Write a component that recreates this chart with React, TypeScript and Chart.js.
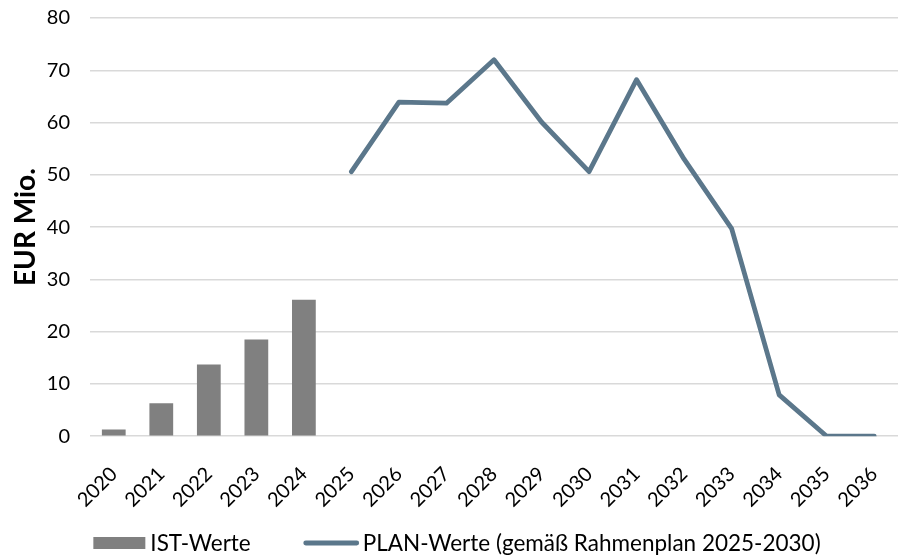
import React, { useEffect, useRef } from "react";
import { Chart, registerables } from "chart.js";

Chart.register(...registerables);

const years = ["2020","2021","2022","2023","2024","2025","2026","2027","2028","2029","2030","2031","2032","2033","2034","2035","2036"];
const istValues = [1.3, 6.3, 13.7, 18.5, 26.1, null, null, null, null, null, null, null, null, null, null, null, null];
const planValues = [null, null, null, null, null, 50.6, 63.9, 63.7, 72.0, 60.1, 50.6, 68.2, 53.0, 39.7, 7.9, 0, 0];
const yTicks = { min: 0, max: 80, step: 10 };
const seriesNames = ["IST-Werte", "PLAN-Werte (gemäß Rahmenplan 2025-2030)"];

const FONT = "Lato, 'Open Sans', sans-serif";
const BAR_COLOR = "#808080";
const LINE_COLOR = "#5b778b";

const legendPlugin = {
  id: "customLegend",
  afterDraw(chart: any) {
    const ctx = chart.ctx as CanvasRenderingContext2D;
    const ds = chart.data.datasets;
    ctx.save();
    ctx.font = `22.5px ${FONT}`;
    ctx.textBaseline = "middle";
    ctx.fillStyle = "#000";
    const w1 = ctx.measureText(ds[0].label).width;
    const w2 = ctx.measureText(ds[1].label).width;
    const total = 52 + 5 + w1 + 53 + 55 + 4 + w2;
    let x = chart.width / 2 + 4 - total / 2;
    const y = 535;
    ctx.fillStyle = ds[0].backgroundColor;
    ctx.fillRect(x, y - 6, 52, 12);
    x += 52 + 5;
    ctx.fillStyle = "#000";
    ctx.fillText(ds[0].label, x, y + 1);
    x += w1 + 53;
    ctx.strokeStyle = ds[1].borderColor;
    ctx.lineWidth = 4.8;
    ctx.lineCap = "round";
    ctx.beginPath();
    ctx.moveTo(x + 2, y);
    ctx.lineTo(x + 53, y);
    ctx.stroke();
    x += 55 + 4;
    ctx.fillText(ds[1].label, x, y + 1);
    ctx.restore();
  },
};

export default function App() {
  const ref = useRef<HTMLCanvasElement | null>(null);
  useEffect(() => {
    if (!ref.current) return;
    const chart = new Chart(ref.current, {
      type: "bar",
      data: {
        labels: years,
        datasets: [
          {
            type: "bar",
            label: seriesNames[0],
            data: istValues,
            backgroundColor: BAR_COLOR,
            borderWidth: 0,
            barPercentage: 1,
            categoryPercentage: 0.5,
            order: 2,
          },
          {
            type: "line",
            label: seriesNames[1],
            data: planValues,
            borderColor: LINE_COLOR,
            backgroundColor: LINE_COLOR,
            borderWidth: 4.8,
            pointRadius: 0,
            tension: 0,
            borderCapStyle: "round",
            borderJoinStyle: "round",
            spanGaps: false,
            order: 1,
          } as any,
        ],
      },
      plugins: [legendPlugin],
      options: {
        animation: false,
        responsive: true,
        maintainAspectRatio: false,
        layout: { autoPadding: false, padding: { top: 0, right: 0, left: 0, bottom: 46 } },
        plugins: {
          tooltip: { enabled: false },
          legend: { display: false },
        },
        scales: {
          x: {
            grid: {
              display: true,
              drawOnChartArea: false,
              drawTicks: true,
              tickLength: 26,
              tickColor: "rgba(0,0,0,0)",
              color: "rgba(0,0,0,0)",
            },
            border: { display: false },
            ticks: {
              color: "#000",
              font: { family: FONT, size: 20 },
              minRotation: 45,
              maxRotation: 45,
              padding: 0,
              autoSkip: false,
            },
          },
          y: {
            min: yTicks.min,
            max: yTicks.max,
            grid: {
              color: "#d9d9d9",
              lineWidth: 1.5,
              drawTicks: true,
              tickLength: 22,
              tickColor: "rgba(0,0,0,0)",
            },
            border: { display: false },
            ticks: {
              stepSize: yTicks.step,
              color: "#000",
              font: { family: FONT, size: 20 },
              padding: -2,
            },
            title: {
              display: true,
              text: "EUR Mio.",
              color: "#000",
              font: { family: FONT, size: 28, weight: "bold", lineHeight: 1.1 },
              padding: { top: 3, bottom: 7 },
            },
          },
        },
      },
    });
    return () => chart.destroy();
  }, []);
  return (
    <div style={{ position: "absolute", left: 8, top: 8, width: 890, height: 550 }}>
      <canvas ref={ref} />
    </div>
  );
}
